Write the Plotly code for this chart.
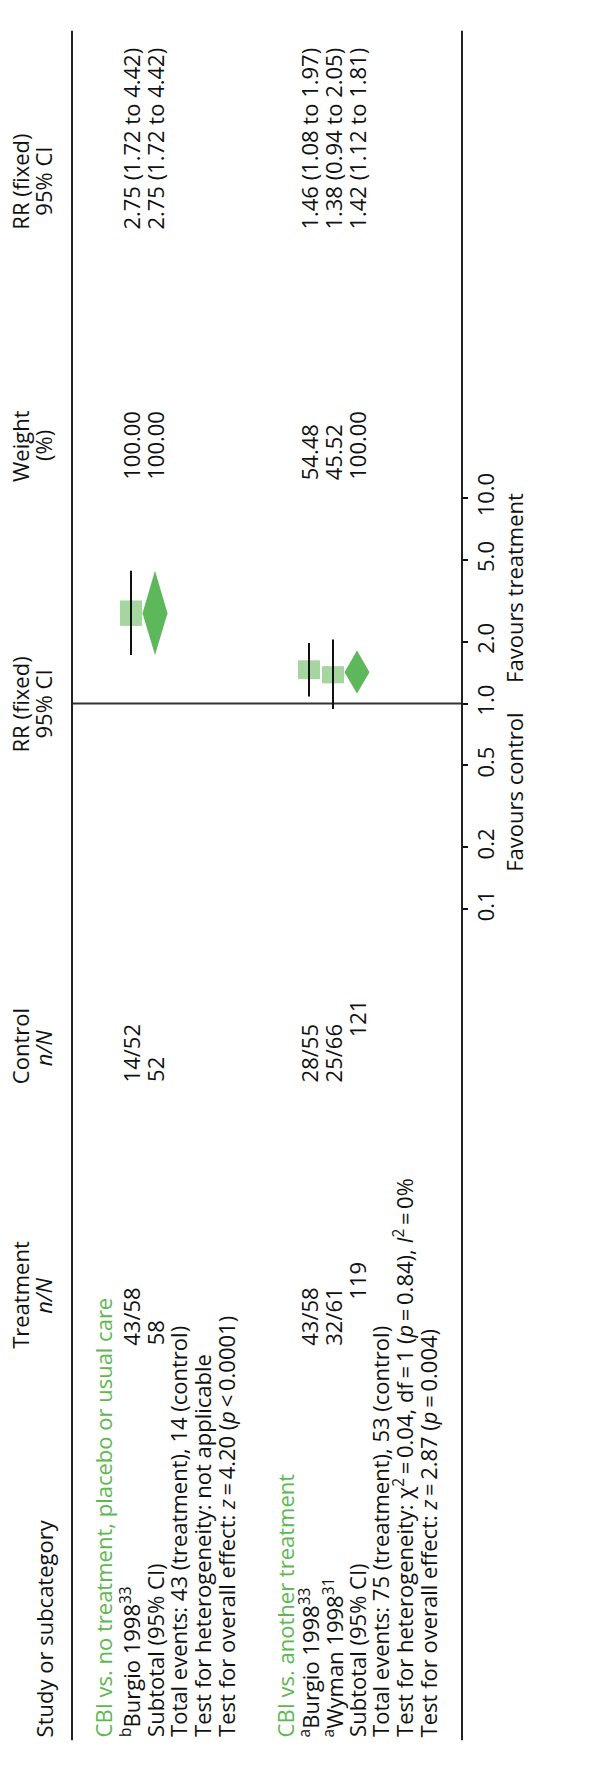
import numpy as np
import plotly.graph_objects as go

W, H = 590, 1768
FONT = "Open Sans"
FS = 22
GREEN_TXT = "#5cb84f"
BOX_COLOR = "#a6d6a0"
DIAMOND_COLOR = "#5cb85a"
INK = "#111111"

# ---- data: individual studies ----
study_labels = ["<sup>b</sup>Burgio 1998<sup>33</sup>",
                "<sup>a</sup>Burgio 1998<sup>33</sup>",
                "<sup>a</sup>Wyman 1998<sup>31</sup>"]
treat_nN = ["43/58", "43/58", "32/61"]
ctrl_nN = ["14/52", "28/55", "25/66"]
study_rr = [2.75, 1.46, 1.38]
study_lo = [1.72, 1.08, 0.94]
study_hi = [4.42, 1.97, 2.05]
study_weight = [100.00, 54.48, 45.52]

# ---- data: subgroups ----
group_titles = ["CBI vs. no treatment, placebo or usual care",
                "CBI vs. another treatment"]
sub_treat_N = [58, 119]
sub_ctrl_N = [52, 121]
sub_rr = [2.75, 1.42]
sub_lo = [1.72, 1.12]
sub_hi = [4.42, 1.81]
sub_weight = [100.00, 100.00]
events_treat = [43, 75]
events_ctrl = [14, 53]
heterogeneity = ["not applicable",
                 "χ<sup>2</sup>\u2009=\u20090.04, df\u2009=\u20091 (<i>p</i>\u2009=\u20090.84), "
                 "<i>I</i><sup>2</sup>\u2009=\u20090%"]
overall_z = ["4.20", "2.87"]
overall_p = ["\u2009&lt;\u20090.0001", "\u2009=\u20090.004"]

# ---- axis ----
tick_vals = [0.1, 0.2, 0.5, 1, 2, 5, 10]
tick_text = ["0.1", "0.2", "0.5", "1.0", "2.0", "5.0", "10.0"]

# ---- layout geometry (page pixels; the table is turned a quarter turn) ----
row_group = [103, 285]
row_study = [131, 309, 333]
row_sub = [155, 357]
row_events = [178, 380]
row_het = [202, 404]
row_overall = [226, 428]
HDR1, HDR2 = 20, 43
AX_TOP, AX_BOT = 483, 903          # pixel rows of RR = 10 and RR = 0.1
LEFT_RULE, RIGHT_RULE = 72, 462
RULE_TOP, RULE_BOT = 6, 1752
PPD = (AX_BOT - AX_TOP) / 2.0       # pixels per decade

fig = go.Figure()


def py(p):
    return 1 - p / H


def txt(x, p, text, anchor="bottom", color=INK, size=FS):
    fig.add_annotation(x=x, xref="x", y=py(p), yref="paper", text=text,
                       textangle=-90, showarrow=False, xanchor="center",
                       yanchor=anchor, borderpad=0,
                       font=dict(family=FONT, size=size, color=color))


def scale(v, px):
    return v * 10 ** (px / PPD)


# reference line at RR = 1
fig.add_trace(go.Scatter(x=[LEFT_RULE, RIGHT_RULE], y=[1, 1], mode="lines",
                         line=dict(color="#333333", width=2), hoverinfo="skip"))

# study boxes and confidence intervals
for x, rr, lo, hi, w in zip(row_study, study_rr, study_lo, study_hi, study_weight):
    side = 26 * np.sqrt(w / 100)
    half_w = 11
    ytop, ybot = scale(rr, side / 2), scale(rr, -side / 2)
    fig.add_trace(go.Scatter(
        x=[x - half_w, x + half_w, x + half_w, x - half_w, x - half_w],
        y=[ybot, ybot, ytop, ytop, ybot], fill="toself", fillcolor=BOX_COLOR,
        mode="none", hoverinfo="skip"))
    fig.add_trace(go.Scatter(x=[x, x], y=[lo, hi], mode="lines",
                             line=dict(color=INK, width=2), hoverinfo="skip"))

# subtotal diamonds
for x, rr, lo, hi in zip(row_sub, sub_rr, sub_lo, sub_hi):
    fig.add_trace(go.Scatter(
        x=[x, x - 12.5, x, x + 12.5, x], y=[lo, rr, hi, rr, lo],
        fill="toself", fillcolor=DIAMOND_COLOR, mode="none", hoverinfo="skip"))

# frame rules
for xr in (LEFT_RULE, RIGHT_RULE):
    fig.add_shape(type="line", xref="x", yref="paper", x0=xr, x1=xr,
                  y0=py(RULE_TOP), y1=py(RULE_BOT),
                  line=dict(color="#222222", width=2))

# column headers
txt(HDR2 + 1, 1750, "Study or subcategory")
txt(HDR1, 1297, "Treatment", anchor="middle")
txt(HDR2, 1298, "<i>n/N</i>", anchor="middle")
txt(HDR1, 1043, "Control", anchor="middle")
txt(HDR2, 1045, "<i>n/N</i>", anchor="middle")
txt(HDR1, 694, "RR (fixed)", anchor="middle")
txt(HDR2, 694, "95% CI", anchor="middle")
txt(HDR1, 430, "Weight", anchor="middle")
txt(HDR2, 430, "(%)", anchor="middle")
txt(HDR1, 160, "RR (fixed)", anchor="middle")
txt(HDR2, 160, "95% CI", anchor="middle")

# group titles
for x, t in zip(row_group, group_titles):
    txt(x, 1750, t, color=GREEN_TXT)

# study rows
for x, lab, tn, cn, rr, lo, hi, w in zip(row_study, study_labels, treat_nN, ctrl_nN,
                                         study_rr, study_lo, study_hi, study_weight):
    txt(x, 1750, lab)
    txt(x, 1350, tn)
    txt(x, 1081, cn)
    txt(x, 466, f"{w:.2f}")
    txt(x, 210, f"{rr:.2f} ({lo:.2f} to {hi:.2f})")

# subtotal rows and summary lines
sub_treat_pos = [1350, 1303]
sub_ctrl_pos = [1081, 1035]
for i in range(2):
    x = row_sub[i]
    txt(x, 1750, "Subtotal (95% CI)")
    txt(x, sub_treat_pos[i], str(sub_treat_N[i]))
    txt(x, sub_ctrl_pos[i], str(sub_ctrl_N[i]))
    txt(x, 466, f"{sub_weight[i]:.2f}")
    txt(x, 210, f"{sub_rr[i]:.2f} ({sub_lo[i]:.2f} to {sub_hi[i]:.2f})")
    txt(row_events[i], 1750,
        f"Total events: {events_treat[i]} (treatment), {events_ctrl[i]} (control)")
    txt(row_het[i], 1750, f"Test for heterogeneity: {heterogeneity[i]}")
    txt(row_overall[i], 1750,
        f"Test for overall effect: <i>z</i>\u2009=\u2009{overall_z[i]} (<i>p</i>{overall_p[i]})")

# favours labels
txt(514, 673, "Favours treatment")
txt(514, 702, "Favours control", anchor="top")

fig.update_layout(
    width=W, height=H, margin=dict(l=0, r=0, t=0, b=0),
    paper_bgcolor="white", plot_bgcolor="rgba(0,0,0,0)", showlegend=False,
    xaxis=dict(range=[0, W], domain=[0, 1], visible=False, fixedrange=True),
    yaxis=dict(type="log", range=[-1, 1], domain=[py(AX_BOT), py(AX_TOP)],
               anchor="free", position=RIGHT_RULE / W, side="right",
               showline=False, showgrid=False, zeroline=False,
               ticks="outside", ticklen=5, tickwidth=1.5, tickcolor=INK,
               tickvals=tick_vals, ticktext=tick_text, tickangle=-90,
               tickfont=dict(family=FONT, size=FS, color=INK), fixedrange=True),
)

fig.write_html("out.html")
